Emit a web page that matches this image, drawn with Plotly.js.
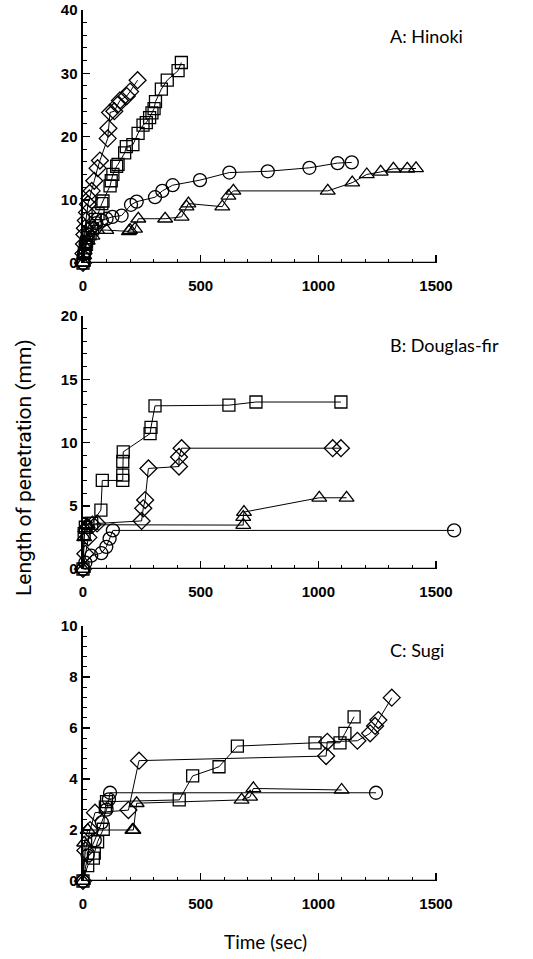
<!DOCTYPE html>
<html>
<head>
<meta charset="utf-8">
<script src="https://cdn.plot.ly/plotly-3.0.1.min.js"></script>
<style>
  html, body { margin: 0; padding: 0; background: #fff; }
  #chart { width: 533px; height: 959px; }
</style>
</head>
<body>
<div id="chart"></div>
<script>
// Penetration length (mm) versus time (sec) for three wood species,
// four specimens each (circle, square, diamond, triangle).

// A: Hinoki
const hinokiCircleT   = [0, 5, 12, 20, 35, 57, 80, 100, 125, 164, 204, 228, 306, 337, 381, 497, 622, 785, 962, 1082, 1142];
const hinokiCircleL   = [0, 1.5, 3, 4.5, 5.6, 6.3, 6.7, 7.0, 7.3, 7.5, 9.2, 9.7, 10.4, 11.4, 12.3, 13.1, 14.3, 14.5, 15.05, 15.8, 15.9];
const hinokiSquareT   = [0, 3, 6, 10, 15, 22, 30, 40, 52, 64, 80, 85, 115, 120, 127, 143, 149, 177, 184, 212, 234, 255, 269, 283, 293, 302, 308, 333, 358, 404, 418];
const hinokiSquareL   = [0, 0.5, 1.5, 2.5, 3.3, 4.0, 4.6, 5.4, 6.9, 7.8, 9.4, 9.8, 12.2, 13.0, 14.0, 15.3, 15.6, 17.4, 18.4, 18.7, 20.5, 21.8, 22.2, 23.0, 23.75, 24.4, 25.5, 27.5, 28.9, 30.4, 31.7];
const hinokiDiamondT  = [0, 2, 4, 6, 8, 12, 17, 21, 27, 37, 48, 62, 72, 105, 108, 115, 133, 147, 157, 186, 200, 232];
const hinokiDiamondL  = [0, 1.5, 3, 4.5, 5.5, 6.7, 8.0, 9.3, 10.2, 11.4, 13.0, 15.0, 16.2, 19.7, 21.3, 23.8, 24.0, 25.0, 25.7, 26.4, 27.1, 28.9];
const hinokiTriangleT = [0, 5, 10, 20, 40, 60, 99, 195, 200, 221, 235, 349, 419, 440, 448, 592, 618, 639, 1040, 1144, 1206, 1265, 1319, 1378, 1415];
const hinokiTriangleL = [0, 1.2, 2.5, 3.5, 4.3, 5.2, 5.2, 5.0, 5.2, 5.4, 7.0, 7.0, 7.3, 8.9, 9.4, 8.9, 10.6, 11.4, 11.4, 12.7, 14.0, 14.4, 14.9, 14.9, 14.95];

// B: Douglas-fir
const douglasCircleT   = [0, 10, 35, 78, 99, 113, 127, 1577];
const douglasCircleL   = [0, 0.5, 1.05, 1.25, 1.75, 2.4, 3.05, 3.05];
const douglasSquareT   = [0, 5, 10, 21, 37, 76, 82, 169, 169, 169, 171, 285, 289, 306, 620, 735, 1096];
const douglasSquareL   = [0, 2.8, 3.3, 3.6, 3.6, 4.66, 7.0, 7.0, 7.42, 8.5, 9.26, 10.7, 11.2, 12.9, 12.95, 13.2, 13.2];
const douglasDiamondT  = [0, 10, 23, 40, 60, 249, 256, 264, 278, 408, 408, 419, 1061, 1096];
const douglasDiamondL  = [0, 1.2, 2.5, 3.5, 3.6, 3.8, 4.8, 5.45, 7.95, 8.1, 8.86, 9.55, 9.55, 9.55];
const douglasTriangleT = [0, 5, 10, 15, 20, 681, 681, 684, 1004, 1120];
const douglasTriangleL = [0, 2.5, 3.2, 3.5, 3.5, 3.47, 4.1, 4.5, 5.63, 5.63];

// C: Sugi
const sugiCircleT   = [0, 20, 50, 80, 100, 110, 115, 1245];
const sugiCircleL   = [0, 1.0, 1.6, 2.3, 2.8, 3.2, 3.46, 3.46];
const sugiSquareT   = [0, 20, 44, 48, 62, 86, 95, 100, 409, 466, 578, 656, 986, 1092, 1113, 1152];
const sugiSquareL   = [0, 0.6, 0.9, 1.09, 1.54, 2.03, 2.9, 3.11, 3.18, 4.12, 4.48, 5.29, 5.42, 5.42, 5.79, 6.44];
const sugiDiamondT  = [0, 10, 30, 51, 193, 238, 1033, 1038, 1166, 1220, 1241, 1255, 1312];
const sugiDiamondL  = [0, 1.2, 2.0, 2.68, 2.78, 4.72, 4.9, 5.46, 5.5, 5.79, 6.08, 6.31, 7.19];
const sugiTriangleT = [0, 5, 20, 210, 214, 228, 674, 710, 724, 1099];
const sugiTriangleL = [0, 1.5, 2.0, 2.0, 2.0, 3.05, 3.18, 3.3, 3.63, 3.57];

// Axis tick values and labels
const timeTicks = [0, 500, 1000, 1500];
const timeLabels = ['0', '500', '1000', '1500'];
const panelTitles = ['A: Hinoki', 'B: Douglas-fir', 'C: Sugi'];

const symbolSize = {circle: 13, square: 12, diamond: 13, 'triangle-up': 13};

function series(x, y, sym, axisSuffix) {
  return {
    type: 'scatter',
    mode: 'lines+markers',
    x: x, y: y,
    xaxis: 'x' + axisSuffix, yaxis: 'y' + axisSuffix,
    cliponaxis: false,
    line: {color: '#000', width: 1},
    marker: {
      symbol: sym + '-open',
      size: symbolSize[sym],
      color: '#000',
      line: {color: '#000', width: 1.3}
    },
    showlegend: false,
    hoverinfo: 'x+y'
  };
}

const data = [
  series(hinokiCircleT, hinokiCircleL, 'circle', ''),
  series(hinokiTriangleT, hinokiTriangleL, 'triangle-up', ''),
  series(hinokiSquareT, hinokiSquareL, 'square', ''),
  series(hinokiDiamondT, hinokiDiamondL, 'diamond', ''),
  series(douglasCircleT, douglasCircleL, 'circle', '2'),
  series(douglasTriangleT, douglasTriangleL, 'triangle-up', '2'),
  series(douglasSquareT, douglasSquareL, 'square', '2'),
  series(douglasDiamondT, douglasDiamondL, 'diamond', '2'),
  series(sugiCircleT, sugiCircleL, 'circle', '3'),
  series(sugiTriangleT, sugiTriangleL, 'triangle-up', '3'),
  series(sugiSquareT, sugiSquareL, 'square', '3'),
  series(sugiDiamondT, sugiDiamondL, 'diamond', '3')
];

const W = 533, H = 959;
// plot area: x axis from 0 to 1500 spans px 83..436
const xLeft = 83 / W;
const xMax = 1590;
const xRight = (83 + 353 * xMax / 1500) / W;

const tickFont = {family: 'Liberation Sans, Arial, sans-serif', size: 15, color: '#000', weight: 'bold'};

function xAxis(anchor) {
  return {
    domain: [xLeft, xRight],
    range: [0, xMax],
    anchor: anchor,
    showgrid: false,
    zeroline: false,
    showline: false,
    tickmode: 'array',
    tickvals: timeTicks,
    ticktext: timeLabels,
    ticks: 'inside',
    ticklen: 8,
    tickwidth: 1.5,
    tickcolor: '#000',
    tickfont: tickFont,
    ticklabelstandoff: 12,
    ticklabeloverflow: 'allow',
    minor: {dtick: 100, tick0: 0, ticks: 'inside', ticklen: 4, tickwidth: 1, tickcolor: '#000', showgrid: false},
    fixedrange: true
  };
}

function yAxis(anchor, top, bottom, maxV, major) {
  return {
    domain: [1 - bottom / H, 1 - top / H],
    range: [0, maxV],
    anchor: anchor,
    showgrid: false,
    zeroline: false,
    showline: true,
    linecolor: '#000',
    linewidth: 2.5,
    dtick: major,
    tick0: 0,
    ticks: 'inside',
    ticklen: 7,
    tickwidth: 1.5,
    tickcolor: '#000',
    tickfont: tickFont,
    ticklabeloverflow: 'allow',
    minor: {dtick: major / 5, tick0: 0, ticks: 'inside', ticklen: 4, tickwidth: 1, tickcolor: '#000', showgrid: false},
    fixedrange: true
  };
}

// x axis lines stop at 1500 sec
function baseLine(suffix) {
  return {
    type: 'line', xref: 'x' + suffix, yref: 'y' + suffix,
    x0: 0, x1: 1500, y0: 0, y1: 0,
    line: {color: '#000', width: 2.5}
  };
}

const titleFont = {family: 'Lato, Noto Sans, sans-serif', size: 18, color: '#000'};
const titleX = 388 / W;
const titleYs = [36, 345, 650];

const annotations = panelTitles.map((t, i) => ({
  text: t, xref: 'paper', yref: 'paper',
  x: titleX, y: 1 - titleYs[i] / H,
  xanchor: 'left', yanchor: 'middle',
  showarrow: false, font: titleFont
}));

annotations.push({
  text: 'Length of penetration (mm)',
  xref: 'paper', yref: 'paper',
  x: 24 / W, y: 1 - 468 / H,
  xanchor: 'center', yanchor: 'middle',
  textangle: -90, showarrow: false,
  font: {family: 'Liberation Sans Narrow, Roboto, sans-serif', size: 21, color: '#000'}
});
annotations.push({
  text: 'Time (sec)',
  xref: 'paper', yref: 'paper',
  x: 265 / W, y: 1 - 941 / H,
  xanchor: 'center', yanchor: 'middle',
  showarrow: false,
  font: {family: 'Lato, Noto Sans, sans-serif', size: 19, color: '#000'}
});

const layout = {
  width: W, height: H,
  margin: {l: 0, r: 0, t: 0, b: 0, pad: 0},
  paper_bgcolor: '#fff',
  plot_bgcolor: 'rgba(0,0,0,0)',
  showlegend: false,
  xaxis: xAxis('y'),
  yaxis: yAxis('x', 10, 263, 40, 10),
  xaxis2: xAxis('y2'),
  yaxis2: yAxis('x2', 316, 569, 20, 5),
  xaxis3: xAxis('y3'),
  yaxis3: yAxis('x3', 626, 881, 10, 2),
  shapes: [baseLine(''), baseLine('2'), baseLine('3')],
  annotations: annotations
};

Plotly.newPlot('chart', data, layout, {staticPlot: true, displayModeBar: false});
</script>
</body>
</html>
